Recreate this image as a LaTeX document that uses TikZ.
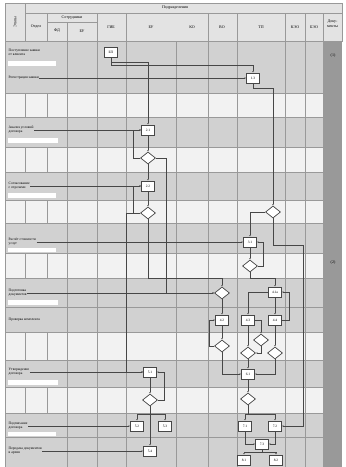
\documentclass[tikz,border=0pt]{standalone}
\usepackage{fontspec}
\setmainfont{Liberation Serif}
\usetikzlibrary{shapes.geometric, arrows.meta, positioning, calc}
\definecolor{cband}{gray}{0.82}
\definecolor{clight}{gray}{0.95}
\definecolor{cdoc}{gray}{0.6}
\definecolor{cline}{gray}{0.28}

\begin{document}
\begin{tikzpicture}[x=1pt, y=-1pt,
    proc/.style={draw=cline, fill=white, line width=0.7pt, minimum width=13pt, minimum height=10pt, inner sep=0.5pt, font=\fontsize{3.5}{4}\selectfont},
    cond/.style={draw=cline, fill=white, diamond, aspect=1.3, line width=0.7pt, minimum width=15pt, minimum height=12pt, inner sep=0pt},
    flow/.style={draw=cline, line width=0.7pt, -{Latex[length=1.6pt, width=1.4pt]}},
    grid/.style={draw=black!40, line width=0.5pt},
    hdr/.style={font=\fontsize{4}{4.6}\selectfont, align=center, inner sep=0.5pt},
    stage/.style={font=\fontsize{3.6}{4.2}\selectfont, align=left, anchor=west, inner sep=0.5pt}
]
\useasboundingbox (0,0) rectangle (346,467);
\fill[white] (0,0) rectangle (346,467);

% bands of the body
\fill[cband] (5,41) rectangle (323,467);
\foreach \ya/\yb in {93/117, 147/172, 200/223, 253/278, 332/360, 387/413}
  \fill[clight] (5,\ya) rectangle (323,\yb);
\fill[cdoc] (323,41) rectangle (342,467);

% header
\fill[cband!60!white] (5,3) rectangle (342,41);
\draw[grid] (5,3) rectangle (342,41);
\draw[grid] (25,13) -- (342,13);
\draw[grid] (47,22) -- (97,22);
\draw[grid] (25,3) -- (25,41);
\draw[grid] (67,22) -- (67,41);
\foreach \x in {47,97,126,208,237,285,305,323}
  \draw[grid] (\x,13) -- (\x,41);
\node[hdr, rotate=90] (hEt) at (15,22) {Этапы};
\node[hdr] (hOt) at (36,27) {Отдел};
\node[hdr] (hSo) at (72,17.5) {Сотрудники};
\node[hdr] (hFd) at (57,31) {ФД};
\node[hdr] (hBu) at (82,31) {БУ};
\node[hdr] (hGb) at (111,27) {ГИБ};
\node[hdr] (hPd) at (175,8) {Подразделения};
\node[hdr] (hB2) at (151,27) {БУ};
\node[hdr] (hKo) at (192,27) {КО};
\node[hdr] (hVo) at (222,27) {ВО};
\node[hdr] (hTp) at (261,27) {ТП};
\node[hdr] (hKe) at (295,27) {КЭО};
\node[hdr] (hBe) at (314,27) {БЭО};
\node[hdr] (hDk) at (332.5,24) {Доку-\\менты};

% grid of the body
\draw[grid] (5,41) -- (5,467);
\foreach \x in {67,97,126,176,208,237,285,305,323}
  \draw[grid] (\x,41) -- (\x,467);
\foreach \ya/\yb in {93/117, 147/172, 200/223, 253/278, 332/360, 387/413}{
  \draw[grid] (25,\ya) -- (25,\yb);
  \draw[grid] (47,\ya) -- (47,\yb);
}
\foreach \y in {93,117,147,172,200,223,253,278,307,332,360,387,413,437}
  \draw[grid] (5,\y) -- (323,\y);

% stages
\node[stage] (s1) at (8,52) {Поступление заявки\\от клиента};
\fill[white] (8,61) rectangle (56,66);
\node[stage] (s1b) at (8,78) {Регистрация заявки};
\node[stage] (s2) at (8,130) {Анализ условий\\договора};
\fill[white] (8,138) rectangle (58,143);
\node[stage] (s3) at (8,186) {Согласование\\с отделами};
\fill[white] (8,193) rectangle (56,198);
\node[stage] (s4) at (8,242) {Расчёт стоимости\\услуг};
\fill[white] (8,248) rectangle (56,252);
\node[stage] (s5) at (8,293) {Подготовка\\документов};
\fill[white] (8,300) rectangle (58,305);
\node[stage] (s5b) at (8,320) {Проверка комплекта};
\node[stage] (s6) at (8,372) {Утверждение\\договора};
\fill[white] (8,380) rectangle (58,385);
\node[stage] (s7) at (8,426) {Подписание\\договора};
\fill[white] (8,432) rectangle (56,436);
\node[stage] (s8) at (8,451) {Передача документов\\в архив};

% documents column
\node[hdr] (dc1) at (333,56) {(1)};
\node[hdr] (dc2) at (333,263) {(2)};

% process nodes
\node[proc] (n1) at (111,52) {БП};
\node[proc] (n2) at (253,78) {1.3};
\node[proc] (n3) at (148,130) {2.1};
\node[cond] (d1) at (148,158) {};
\node[proc] (n4) at (148,186) {2.2};
\node[cond] (d2) at (148,213) {};
\node[cond] (d3) at (273,212) {};
\node[proc] (n5) at (250,242) {3.1};
\node[cond] (d4) at (250,266) {};
\node[cond] (d5) at (222,293) {};
\node[proc] (n6) at (275,292) {4.1а};
\node[proc] (n7) at (222,320) {4.2};
\node[proc] (n8) at (248,320) {4.3};
\node[proc] (n9) at (275,320) {4.4};
\node[cond] (d6) at (222,346) {};
\node[cond] (d7) at (261,340) {};
\node[cond] (d8) at (248,353) {};
\node[cond] (d9) at (275,353) {};
\node[proc] (n14) at (248,374) {6.1};
\node[cond] (d11) at (248,399) {};
\node[proc] (n15) at (245,426) {7.1};
\node[proc] (n16) at (275,426) {7.2};
\node[proc] (n17) at (262,444) {7.3};
\node[proc] (n18) at (244,460) {8.1};
\node[proc] (n19) at (276,460) {8.2};
\node[proc] (n10) at (150,372) {5.1};
\node[cond] (d10) at (150,400) {};
\node[proc] (n11) at (137,426) {5.2};
\node[proc] (n12) at (165,426) {5.3};
\node[proc] (n13) at (150,451) {5.4};

% connectors
\coordinate (b3) at (303,245);
\draw[flow] (n1.south) -- ++(0,5) -| (n3.north);
\draw[flow] (n1.south) -- ++(0,8) -| (n2.north);
\draw[flow] (s1b.east) -- (n2.west);
\draw[flow] (n2.south) -- ++(0,5) -| (d3.north);
\draw[flow] (s2.east) -- (n3.west);
\draw[flow] (n3) -- (d1);
\draw[flow] (d1) -- (n4);
\draw[flow] (d1.west) -- ++(-7,0) |- (n3.west);
\draw[flow] (d1.east) -- ++(10,0) |- (d5.west);
\draw[flow] (s3.east) -- (n4.west);
\draw[flow] (n4) -- (d2);
\draw[flow] (d2.west) -- ++(-7,0) |- (n4.west);
\draw[flow] (d2.west) -- ++(-14,0) |- (n10.west);
\draw[flow] (d2.south) -- ++(0,59) -| (d5.north);
\draw[flow] (d3.west) -| (n5.north);
\draw[flow] (d3.south) |- (b3) |- (n16.east);
\draw[flow] (s4.east) -- (n5.west);
\draw[flow] (n5) -- (d4);
\draw[flow] (d4.east) -- ++(5,0) |- (n5.east);
\draw[flow] (d4.south) -- ++(0,6) -| (n6.north);
\draw[flow] (s5.east) -- (d5.west);
\draw[flow] (d5) -- (n7);
\draw[flow] (n6.west) -| (n8.north);
\draw[flow] (n6) -- (n9);
\draw[flow] (n9.east) -- ++(7,0) |- (n6.east);
\draw[flow] (n7) -- (d6);
\draw[flow] (n8) -- (d8);
\draw[flow] (n9) -- (d9);
\draw[flow] (n8.east) -| (d7.north);
\draw[flow] (d7.south) |- (d8.east);
\draw[flow] (d6.west) -- ++(-5,0) |- (n7.west);
\draw[flow] (d8) -- (n14);
\draw[flow] (d9.south) |- (n14.east);
\draw[flow] (d6.south) |- (n14.west);
\draw[flow] (n14) -- (d11);
\draw[flow] (d11.south) -- ++(0,9) -| (n15.north);
\draw[flow] (d11.south) -- ++(0,9) -| (n16.north);
\draw[flow] (n15.south) |- (n17.west);
\draw[flow] (n16.south) |- (n17.east);
\draw[flow] (n17.south) -- ++(0,3) -| (n18.north);
\draw[flow] (n17.south) -- ++(0,3) -| (n19.north);
\draw[flow] (s6.east) -- (n10.west);
\draw[flow] (n10) -- (d10);
\draw[flow] (d10.east) -- ++(6,0) |- (n10.east);
\draw[flow] (d10.south) -- ++(0,8) -| (n11.north);
\draw[flow] (d10.south) -- ++(0,8) -| (n12.north);
\draw[flow] (d10) -- (n13);
\draw[flow] (s7.east) -- (n11.west);
\draw[flow] (s8.east) -- (n13.west);
\end{tikzpicture}
\end{document}
